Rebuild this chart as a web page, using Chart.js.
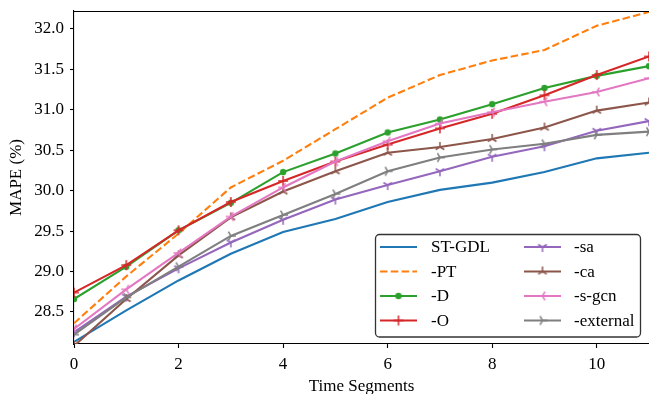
<!DOCTYPE html>
<html>
<head>
<meta charset="utf-8">
<script src="https://cdn.jsdelivr.net/npm/chart.js@4.4.1/dist/chart.umd.min.js"></script>
<style>
  html, body { margin: 0; padding: 0; background: #fff; }
  #wrap { width: 649px; height: 394px; }
</style>
</head>
<body>
<div id="wrap"><canvas id="c" width="649" height="394"></canvas></div>
<script>
// ---- data ----
const timeSegments = [0, 1, 2, 3, 4, 5, 6, 7, 8, 9, 10, 11];
const seriesLabels = ["ST-GDL", "-PT", "-D", "-O", "-sa", "-ca", "-s-gcn", "-external"];
const stgdl    = [28.13, 28.52, 28.89, 29.22, 29.49, 29.65, 29.86, 30.01, 30.10, 30.23, 30.40, 30.47];
const pt       = [28.36, 28.94, 29.47, 30.04, 30.37, 30.76, 31.15, 31.43, 31.61, 31.74, 32.04, 32.21];
const dSeries  = [28.66, 29.06, 29.51, 29.85, 30.23, 30.46, 30.72, 30.88, 31.07, 31.27, 31.42, 31.54];
const oSeries  = [28.74, 29.08, 29.51, 29.86, 30.12, 30.36, 30.57, 30.77, 30.95, 31.18, 31.43, 31.66];
const sa       = [28.25, 28.69, 29.04, 29.36, 29.64, 29.89, 30.07, 30.24, 30.42, 30.55, 30.74, 30.86];
const ca       = [28.08, 28.66, 29.20, 29.67, 29.99, 30.24, 30.47, 30.54, 30.64, 30.78, 30.99, 31.09];
const sgcn     = [28.29, 28.78, 29.23, 29.68, 30.04, 30.36, 30.61, 30.83, 30.97, 31.10, 31.22, 31.39];
const external = [28.22, 28.68, 29.06, 29.44, 29.70, 29.96, 30.24, 30.41, 30.51, 30.58, 30.69, 30.73];
const xTicks = [0, 2, 4, 6, 8, 10];
const yTicks = [28.5, 29.0, 29.5, 30.0, 30.5, 31.0, 31.5, 32.0];

// ---- styles ----
const FONT = "'Liberation Serif', 'Times New Roman', serif";
const colors = ["#1f77b4", "#ff7f0e", "#2ca02c", "#d62728", "#9467bd", "#8c564b", "#e377c2", "#7f7f7f"];

function markerCanvas(kind, color) {
  const s = 14, c = document.createElement('canvas');
  c.width = s; c.height = s;
  const g = c.getContext('2d');
  const cx = s / 2, cy = s / 2, r = 5;
  g.strokeStyle = color; g.fillStyle = color; g.lineWidth = 1.5; g.lineCap = 'butt';
  let dirs = [];
  if (kind === 'plus') dirs = [[1,0],[-1,0],[0,1],[0,-1]];
  if (kind === 'tri_down') dirs = [[0,1],[-0.866,-0.5],[0.866,-0.5]];
  if (kind === 'tri_up') dirs = [[0,-1],[-0.866,0.5],[0.866,0.5]];
  if (kind === 'tri_left') dirs = [[-1,0],[0.5,-0.866],[0.5,0.866]];
  if (kind === 'tri_right') dirs = [[1,0],[-0.5,-0.866],[-0.5,0.866]];
  if (kind === 'dot') {
    g.beginPath(); g.arc(cx, cy, 3.2, 0, Math.PI * 2); g.fill();
    return c;
  }
  g.beginPath();
  dirs.forEach(([dx, dy]) => { g.moveTo(cx, cy); g.lineTo(cx + dx * r, cy + dy * r); });
  g.stroke();
  return c;
}

const markerKinds = [null, null, 'dot', 'plus', 'tri_down', 'tri_up', 'tri_left', 'tri_right'];
const markers = markerKinds.map((k, i) => k ? markerCanvas(k, colors[i]) : null);
const allSeries = [stgdl, pt, dSeries, oSeries, sa, ca, sgcn, external];

const datasets = allSeries.map((vals, i) => ({
  label: seriesLabels[i],
  data: timeSegments.map((x, j) => ({ x: x, y: vals[j] })),
  borderColor: colors[i],
  backgroundColor: colors[i],
  borderWidth: 2.1,
  borderDash: i === 1 ? [7.5, 3.3] : [],
  tension: 0,
  pointStyle: markers[i] || 'circle',
  pointRadius: markers[i] ? 5 : 0,
  pointHoverRadius: markers[i] ? 5 : 0,
  order: allSeries.length - i
}));

const framePlugin = {
  id: 'frameAndLegend',
  afterDraw(chart) {
    const ctx = chart.ctx, a = chart.chartArea;
    ctx.save();
    // top spine
    ctx.strokeStyle = '#000'; ctx.lineWidth = 1.1;
    ctx.beginPath(); ctx.moveTo(a.left, a.top + 0.5); ctx.lineTo(a.right, a.top + 0.5); ctx.stroke();

    // legend box
    const L = 375.5, T = 234.5, R = 640.5, B = 337, rad = 4;
    ctx.globalAlpha = 0.85;
    ctx.fillStyle = '#fff';
    ctx.beginPath(); ctx.roundRect(L, T, R - L, B - T, rad); ctx.fill();
    ctx.globalAlpha = 0.8;
    ctx.strokeStyle = '#000'; ctx.lineWidth = 1.3;
    ctx.stroke();
    ctx.globalAlpha = 1;

    const rows = [247, 271.5, 296, 320.5];
    const cols = [{ h0: 380, h1: 417, tx: 431 }, { h0: 524, h1: 561, tx: 574 }];
    ctx.font = "17px " + FONT;
    ctx.textBaseline = 'middle';
    ctx.textAlign = 'left';
    chart.data.datasets.forEach((ds, i) => {
      const col = cols[Math.floor(i / 4)], y = rows[i % 4];
      ctx.strokeStyle = ds.borderColor; ctx.lineWidth = ds.borderWidth;
      ctx.setLineDash(ds.borderDash || []);
      ctx.beginPath(); ctx.moveTo(col.h0, y); ctx.lineTo(col.h1, y); ctx.stroke();
      ctx.setLineDash([]);
      if (markers[i]) {
        const m = markers[i];
        ctx.drawImage(m, (col.h0 + col.h1) / 2 - m.width / 2, y - m.height / 2);
      }
      ctx.fillStyle = '#000';
      ctx.fillText(ds.label, col.tx, y + 1);
    });
    ctx.restore();
  }
};

function zeroPad(s) { s.paddingTop = 0; s.paddingBottom = 0; s.paddingLeft = 0; s.paddingRight = 0; }

new Chart(document.getElementById('c'), {
  type: 'line',
  data: { datasets: datasets },
  options: {
    responsive: false,
    devicePixelRatio: 1,
    animation: false,
    events: [],
    layout: { autoPadding: false, padding: { top: 11, right: 0, left: 0, bottom: 0 } },
    plugins: { legend: { display: false }, tooltip: { enabled: false } },
    scales: {
      x: {
        type: 'linear',
        min: 0, max: 11,
        afterFit(s) { s.height = 50; zeroPad(s); },
        afterBuildTicks(s) { s.ticks = xTicks.map(v => ({ value: v })); },
        grid: { drawOnChartArea: false, drawTicks: true, tickLength: 4, color: '#000', tickWidth: 1.1 },
        border: { display: true, color: '#000', width: 1.1 },
        ticks: { color: '#000', font: { family: FONT, size: 17 }, padding: 6, maxRotation: 0, autoSkip: false,
                 callback: v => String(v) },
        title: { display: true, text: 'Time Segments', color: '#000', font: { family: FONT, size: 17, lineHeight: 1 },
                 padding: { top: 0, bottom: -1 } }
      },
      y: {
        type: 'linear',
        min: 28.104, max: 32.222,
        afterFit(s) { s.width = 74; zeroPad(s); },
        afterBuildTicks(s) { s.ticks = yTicks.map(v => ({ value: v })); },
        grid: { drawOnChartArea: false, drawTicks: true, tickLength: 4, color: '#000', tickWidth: 1.1 },
        border: { display: true, color: '#000', width: 1.1 },
        ticks: { color: '#000', font: { family: FONT, size: 17 }, padding: 6, autoSkip: false,
                 callback: v => Number(v).toFixed(1) },
        title: { display: true, text: 'MAPE (%)', color: '#000', font: { family: FONT, size: 17, lineHeight: 1 },
                 padding: { top: 8, bottom: 0 } }
      }
    }
  },
  plugins: [framePlugin]
});
</script>
</body>
</html>
